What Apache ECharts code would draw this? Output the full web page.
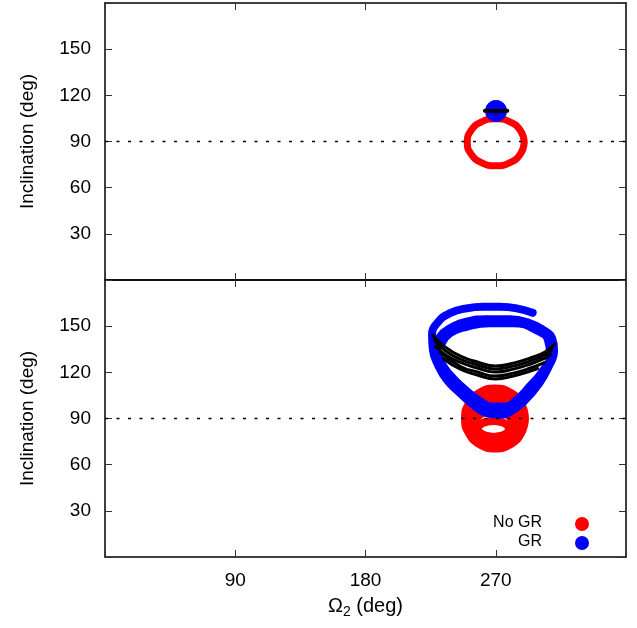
<!DOCTYPE html>
<html>
<head>
<meta charset="utf-8">
<script src="https://cdn.jsdelivr.net/npm/echarts@6/dist/echarts.min.js"></script>
<style>
html,body{margin:0;padding:0;background:#fff;}
#chart{width:637px;height:628px;}
</style>
</head>
<body>
<div id="chart"></div>
<script>
// ---- axis ticks / labels ----
const xMin = 0, xMax = 360, xStep = 90;
const yMin = 0, yMax = 180, yStep = 30;
const xAxisTitle = ['Ω', '2', ' (deg)'];
const yAxisTitle = 'Inclination (deg)';
const legendNames = ['No GR', 'GR'];

// ---- reference line at 90 deg ----
const refLine = [[0, 90], [360, 90]];

// ---- top panel ----
const redTop = [[289.7,89.5],[287.06,97.15],[279.85,102.75],[270,104.8],[260.15,102.75],[252.94,97.15],[250.3,89.5],[252.94,81.85],[260.15,76.25],[270,74.2],[279.85,76.25],[287.06,81.85],[289.7,89.5]];
const blueTop = [[274.35,109.8],[273.8,111.75],[272.3,113.18],[270.2,113.7],[268.1,113.18],[266.6,111.75],[266.05,109.8],[266.6,107.85],[268.1,106.42],[270.2,105.9],[272.3,106.42],[273.8,107.85],[274.35,109.8]];
const blackTop = [[262.5,110],[270,109.7],[278,110]];

// ---- bottom panel ----
const redRing1 = [[290.2,90],[287.43,99.75],[279.85,106.89],[269.5,109.5],[259.15,106.89],[251.57,99.75],[248.8,90],[251.57,80.25],[259.15,73.11],[269.5,70.5],[279.85,73.11],[287.43,80.25],[290.2,90]];
const redRing2 = [[287.4,89.3],[284.96,97.4],[278.3,103.33],[269.2,105.5],[260.1,103.33],[253.44,97.4],[251.0,89.3],[253.44,81.2],[260.1,75.27],[269.2,73.1],[278.3,75.27],[284.96,81.2],[287.4,89.3]];
const redRing3 = [[284.7,88.2],[282.6,94.45],[276.85,99.03],[269.0,100.7],[261.15,99.03],[255.4,94.45],[253.3,88.2],[255.4,81.95],[261.15,77.37],[269.0,75.7],[276.85,77.37],[282.6,81.95],[284.7,88.2]];
const redRing4 = [[281.9,86.5],[280.13,90.75],[275.3,93.86],[268.7,95.0],[262.1,93.86],[257.27,90.75],[255.5,86.5],[257.27,82.25],[262.1,79.14],[268.7,78.0],[275.3,79.14],[280.13,82.25],[281.9,86.5]];
const redRing5 = [[279.2,83.2],[277.75,85.8],[273.8,87.7],[268.4,88.4],[263.0,87.7],[259.05,85.8],[257.6,83.2],[259.05,80.6],[263.0,78.7],[268.4,78.0],[273.8,78.7],[277.75,80.6],[279.2,83.2]];

const blueBottom = [
  [295.5,158.7],[284.5,161.6],[272.9,162.6],[261.4,162.6],[249.9,161.6],[238.4,158.4],[230.3,152.9],[226.0,144.3],
  [226.6,134.5],[230.1,124.8],[236.3,115.0],[245.3,106.5],[255.0,98.5],[264.0,93.5],[272.9,92.5],[281.9,95.5],
  [290.9,102.5],[299.2,111.8],[306.1,122.8],[310.3,134.5],[308.9,142.3],[302.9,147.5],[293.7,151.9],[279.9,154.5],
  [263.8,154.5],[249.9,152.9],[238.4,148.6],[231.5,143.2],[229.4,135.8],[232.2,126.7],[238.4,118.3],[247.4,110.0],
  [257.7,102.3],[267.4,97.8],[276.4,97.8],[285.4,103.0],[293.7,111.1],[302.0,120.2],[307.5,131.3],[306.1,141.0],
  [300.6,146.2],[282.1,151.9],[266.0,151.9],[249.9,149.6],[238.4,145.4],[232.7,138.9]
];

const blackArc1 = [[226.2,144.2],[235.2,136.4],[245.6,130.6],[257.3,126.7],[269.8,124.1],[282.2,126.0],[294.0,129.3],[304.0,133.2],[310.9,138.4]];
const blackArc2 = [[227.6,141.0],[235.2,134.0],[245.6,128.5],[257.3,124.8],[269.8,122.2],[282.2,124.1],[294.0,127.4],[304.0,131.3],[308.7,134.5]];
const blackArc3 = [[228.4,137.0],[235.2,131.5],[245.6,126.4],[257.3,122.8],[269.8,120.2],[282.2,122.1],[294.0,125.4],[304.0,129.3],[308.0,131.5]];
const blackArc4 = [[231.5,133.0],[245.6,123.8],[257.3,120.2],[269.8,117.6],[282.2,119.5],[294.0,122.8],[304.0,126.5]];
const blackArc5 = [[233.6,129.0],[245.6,122.0],[257.3,118.3],[269.8,115.7],[282.2,117.6],[294.0,120.9],[299.0,122.5]];

const RED = '#ff0000', BLUE = '#0000ff', BLACK = '#000000';
const FONT = 'Liberation Sans, Arial, Helvetica, sans-serif';

const chart = echarts.init(document.getElementById('chart'), null, {renderer: 'canvas'});

function xAx(grid, pos, labels, name) {
  const o = {
    type: 'value', gridIndex: grid, position: pos, min: xMin, max: xMax, interval: xStep,
    axisLine: {show: true, onZero: false, lineStyle: {color: '#000', width: 1.5}},
    axisTick: {show: true, inside: true, length: 7, lineStyle: {color: '#333', width: 1}},
    splitLine: {show: false},
    axisLabel: {show: labels, margin: 14, fontSize: 19, color: '#000', fontFamily: FONT,
      formatter: v => (v === xMin || v === xMax) ? '' : String(v)}
  };
  if (name) {
    o.name = '{a|' + xAxisTitle[0] + '}{b|' + xAxisTitle[1] + '}{a|' + xAxisTitle[2] + '}';
    o.nameLocation = 'middle';
    o.nameGap = 38;
    o.nameTextStyle = {fontFamily: FONT, color: '#000', rich: {
      a: {fontSize: 20, fontFamily: FONT, color: '#000', lineHeight: 22},
      b: {fontSize: 14, fontFamily: FONT, color: '#000', lineHeight: 16, padding: [12, 0, 0, 0]}
    }};
  }
  return o;
}
function yAx(grid, pos, labels, name) {
  const o = {
    type: 'value', gridIndex: grid, position: pos, min: yMin, max: yMax, interval: yStep,
    axisLine: {show: true, onZero: false, lineStyle: {color: '#000', width: 1.5}},
    axisTick: {show: true, inside: true, length: 7, lineStyle: {color: '#333', width: 1}},
    splitLine: {show: false},
    axisLabel: {show: labels, margin: 14, fontSize: 19, color: '#000', fontFamily: FONT,
      formatter: v => (v === yMin || v === yMax) ? '' : String(v)}
  };
  if (name) {
    o.name = yAxisTitle;
    o.nameLocation = 'middle';
    o.nameGap = 68;
    o.nameTextStyle = {fontSize: 19, color: '#000', fontFamily: FONT};
  }
  return o;
}

function ln(data, color, width, grid, z, smooth) {
  return {
    type: 'line', data: data, xAxisIndex: grid, yAxisIndex: grid,
    showSymbol: false, symbol: 'none', smooth: smooth === undefined ? 0.5 : smooth, z: z,
    lineStyle: {color: color, width: width, cap: 'round', join: 'round'},
    itemStyle: {color: color}, silent: true, animation: false
  };
}
function dotted(grid) {
  return {
    type: 'line', data: refLine, xAxisIndex: grid, yAxisIndex: grid, symbol: 'none', z: 20,
    lineStyle: {color: '#000', width: 1.5, type: [3, 8.5]}, silent: true, animation: false
  };
}

const option = {
  backgroundColor: '#fff',
  animation: false,
  grid: [
    {left: 105, top: 3, width: 521, height: 277, containLabel: false},
    {left: 105, top: 280, width: 521, height: 277, containLabel: false}
  ],
  xAxis: [xAx(0, 'bottom', false, false), xAx(1, 'bottom', true, true), xAx(0, 'top', false, false), xAx(1, 'top', false, false)],
  yAxis: [yAx(0, 'left', true, true), yAx(1, 'left', true, true), yAx(0, 'right', false, false), yAx(1, 'right', false, false)],
  series: [
    ln(redTop, RED, 7, 0, 2),
    ln(blueTop, BLUE, 10, 0, 3),
    ln(blackTop, BLACK, 4, 0, 4, false),
    dotted(0),
    ln(redRing1, RED, 8, 1, 2),
    ln(redRing2, RED, 8, 1, 2),
    ln(redRing3, RED, 8, 1, 2),
    ln(redRing4, RED, 8, 1, 2),
    ln(redRing5, RED, 8, 1, 2),
    ln(blueBottom, BLUE, 8, 1, 3),
    ln(blackArc1, BLACK, 3, 1, 4),
    ln(blackArc2, BLACK, 3, 1, 4),
    ln(blackArc3, BLACK, 3, 1, 4),
    ln(blackArc4, BLACK, 3, 1, 4),
    ln(blackArc5, BLACK, 3, 1, 4),
    dotted(1)
  ],
  graphic: [
    {type: 'text', right: 637 - 542, top: 515, style: {text: legendNames[0], fontSize: 16, fontFamily: FONT, fill: '#000', textAlign: 'right'}},
    {type: 'circle', shape: {cx: 582, cy: 524, r: 7}, style: {fill: RED}},
    {type: 'text', right: 637 - 542, top: 534, style: {text: legendNames[1], fontSize: 16, fontFamily: FONT, fill: '#000', textAlign: 'right'}},
    {type: 'circle', shape: {cx: 582, cy: 543, r: 7}, style: {fill: BLUE}}
  ]
};
chart.setOption(option);
</script>
</body>
</html>
